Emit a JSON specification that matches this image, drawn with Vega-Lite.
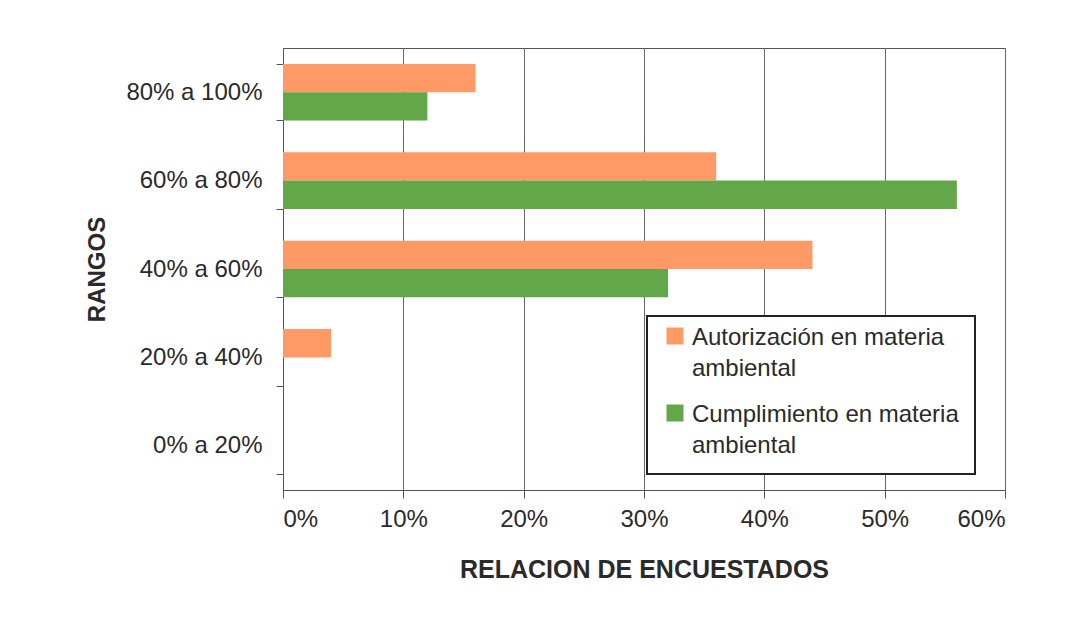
{
  "$schema": "https://vega.github.io/schema/vega-lite/v6.json",
  "width": 722,
  "height": 442,
  "autosize": {"type": "none"},
  "padding": {"left": 283, "top": 48, "right": 81, "bottom": 149},
  "background": "white",
  "config": {
    "view": {"stroke": "#555555", "strokeWidth": 1},
    "font": "Liberation Sans",
    "legend": {"strokeWidth": 2}
  },
  "data": {
    "values": [
      {"rango": "80% a 100%", "serie": "Autorización en materia ambiental", "valor": 0.16},
      {"rango": "80% a 100%", "serie": "Cumplimiento en materia ambiental", "valor": 0.12},
      {"rango": "60% a 80%", "serie": "Autorización en materia ambiental", "valor": 0.36},
      {"rango": "60% a 80%", "serie": "Cumplimiento en materia ambiental", "valor": 0.56},
      {"rango": "40% a 60%", "serie": "Autorización en materia ambiental", "valor": 0.44},
      {"rango": "40% a 60%", "serie": "Cumplimiento en materia ambiental", "valor": 0.32},
      {"rango": "20% a 40%", "serie": "Autorización en materia ambiental", "valor": 0.04},
      {"rango": "20% a 40%", "serie": "Cumplimiento en materia ambiental", "valor": 0},
      {"rango": "0% a 20%", "serie": "Autorización en materia ambiental", "valor": 0},
      {"rango": "0% a 20%", "serie": "Cumplimiento en materia ambiental", "valor": 0}
    ]
  },
  "mark": {"type": "bar"},
  "encoding": {
    "y": {
      "field": "rango",
      "type": "nominal",
      "sort": ["80% a 100%", "60% a 80%", "40% a 60%", "20% a 40%", "0% a 20%"],
      "scale": {"paddingInner": 0.36, "paddingOuter": 0.18},
      "axis": {
        "title": "RANGOS",
        "titleFont": "Liberation Sans",
        "titleFontSize": 24,
        "titleFontWeight": "bold",
        "titleColor": "#2a2a2a",
        "titlePadding": 16,
        "labelFont": "Liberation Sans",
        "labelFontSize": 24,
        "labelColor": "#2a2a2a",
        "labelPadding": 14,
        "tickBand": "extent",
        "tickSize": 7,
        "tickColor": "#555555",
        "domainColor": "#555555",
        "grid": false
      }
    },
    "yOffset": {
      "field": "serie",
      "type": "nominal",
      "sort": ["Autorización en materia ambiental", "Cumplimiento en materia ambiental"]
    },
    "x": {
      "field": "valor",
      "type": "quantitative",
      "scale": {"domain": [0, 0.6], "nice": false},
      "axis": {
        "title": "RELACION DE ENCUESTADOS",
        "titleFont": "Liberation Sans",
        "titleFontSize": 25,
        "titleFontWeight": "bold",
        "titleColor": "#2a2a2a",
        "titlePadding": 26,
        "format": "%",
        "values": [0, 0.1, 0.2, 0.3, 0.4, 0.5, 0.6],
        "labelFont": "Liberation Sans",
        "labelFontSize": 24,
        "labelColor": "#2a2a2a",
        "labelPadding": 9,
        "tickSize": 8,
        "tickColor": "#555555",
        "domainColor": "#555555",
        "grid": true,
        "gridColor": "#666666",
        "gridWidth": 1
      }
    },
    "color": {
      "field": "serie",
      "type": "nominal",
      "sort": ["Autorización en materia ambiental", "Cumplimiento en materia ambiental"],
      "scale": {"range": ["#FF9A66", "#62A84B"]},
      "legend": {
        "title": null,
        "orient": "none",
        "legendX": 364,
        "legendY": 268,
        "direction": "vertical",
        "symbolType": "M-1,-1.94H1V0.06H-1Z",
        "symbolSize": 289,
        "symbolStrokeWidth": 0,
        "labelFont": "Liberation Sans",
        "labelFontSize": 24,
        "labelColor": "#2a2a2a",
        "labelLimit": 400,
        "labelExpr": "split(replace(datum.label, ' ambiental', '|ambiental'), '|')",
        "labelBaseline": "top",
        "labelOffset": 5,
        "rowPadding": 22,
        "padding": 16,
        "fillColor": "white",
        "strokeColor": "#222222",
        "encode": {
          "labels": {"update": {"dy": {"value": -18}, "lineHeight": {"value": 31}}}
        }
      }
    }
  }
}
